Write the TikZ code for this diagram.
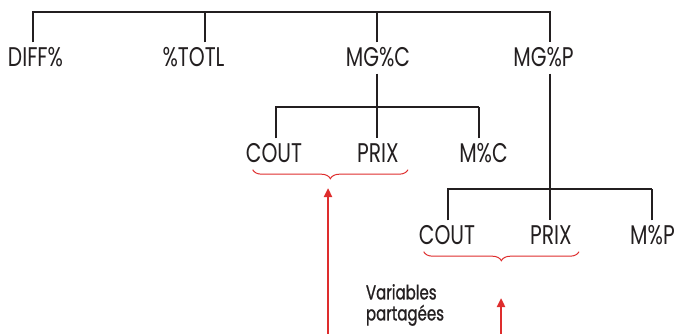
\documentclass[tikz,border=0pt]{standalone}
\usepackage{fontspec}
\setmainfont{Poppins}[FakeStretch=0.75]
\newfontfamily\sharefont{Poppins}[FakeStretch=0.75, FakeBold=1]
\usepackage{xcolor}
\usepackage{tikz}
\usetikzlibrary{arrows.meta, positioning, calc, decorations.pathreplacing}
\definecolor{inkblack}{RGB}{35, 31, 32}
\definecolor{markred}{RGB}{222, 45, 45}

\begin{document}
\begin{tikzpicture}[x=1pt, y=-1pt,
    label/.style={text=inkblack, font=\fontsize{27}{27}\selectfont,
                  inner xsep=0pt, inner ysep=7pt, text height=17pt, text depth=0pt},
    bar/.style={draw=inkblack, line width=1.7pt},
    stem/.style={draw=inkblack, line width=2.7pt},
    share/.style={draw=markred, line width=1pt,
                  decorate, decoration={brace, mirror, amplitude=9pt}},
    pointer/.style={draw=markred, line width=2.6pt,
                    -{Triangle[length=9pt, width=8pt]}}
]
    \useasboundingbox (0,0) rectangle (677,334);

    % Top row
    \node[label] (diff) at (35.5,58) {DIFF\%};
    \node[label] (totl) at (193.5,58) {\%TOTL};
    \node[label] (mgc) at (378,58) {MG\%C};
    \node[label] (mgp) at (543.5,58) {MG\%P};
    \coordinate (topbar) at (291,12);

    \draw[bar] ([xshift=-2.5pt]diff.north) |- (topbar) -| ([xshift=6.5pt]mgp.north);
    \draw[stem] ([xshift=11.5pt]totl.north) -- ([xshift=11.5pt]totl.north |- topbar);
    \draw[stem] ([xshift=-1pt]mgc.north) -- ([xshift=-1pt]mgc.north |- topbar);

    % MG%C branch
    \node[label] (coutc) at (274,154) {COUT};
    \node[label] (prixc) at (378,154) {PRIX};
    \node[label] (mc) at (483.5,154) {M\%C};
    \coordinate (barc) at (377,107);

    \draw[bar] ([xshift=2pt]coutc.north) |- ([xshift=-4.5pt]mc.north |- barc);
    \draw[stem] ([xshift=-4.5pt]mc.north) -- ([xshift=-4.5pt]mc.north |- barc);
    \draw[stem] ([xshift=-1pt]mgc.south) -- ([xshift=-1pt]prixc.north);

    % MG%P branch
    \node[label] (coutp) at (447,236) {COUT};
    \node[label] (prixp) at (551,236) {PRIX};
    \node[label] (mp) at (652.5,236) {M\%P};
    \coordinate (barp) at (550,189);

    \draw[bar] ([xshift=1pt]coutp.north) |- ([xshift=-0.5pt]mp.north |- barp);
    \draw[stem] ([xshift=-0.5pt]mp.north) -- ([xshift=-0.5pt]mp.north |- barp);
    \draw[stem] ([xshift=6.5pt]mgp.south) -- ([xshift=-1pt]prixp.north);

    % Shared variables
    \draw[share] ([xshift=7pt]coutc.south west) -- ([xshift=9pt]prixc.south east);
    \draw[share] ([xshift=5pt]coutp.south west) -- ([xshift=7pt]prixp.south east);

    \node[text=inkblack, font=\sharefont\fontsize{20}{21}\selectfont, align=left] (shared) at (405,305)
        {Variables\\partagées};

    \coordinate (tailc) at (328,334);
    \coordinate (headc) at (328,188);
    \coordinate (tailp) at (501,334);
    \coordinate (headp) at (501,298);
    \draw[pointer] (tailc) -- (headc);
    \draw[pointer] (tailp) -- (headp);
\end{tikzpicture}
\end{document}
